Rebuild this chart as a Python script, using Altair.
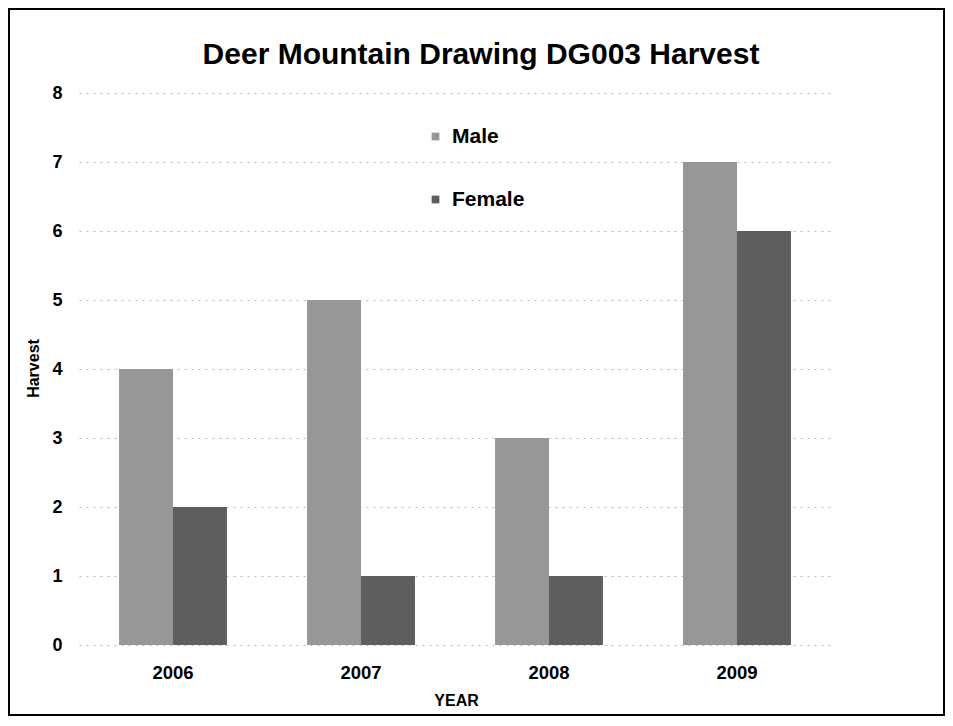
import altair as alt
import pandas as pd

years = ["2006", "2007", "2008", "2009"]
male = [4, 5, 3, 7]
female = [2, 1, 1, 6]
sexes = ["Male", "Female"]
colors = ["#979797", "#5e5e5e"]

rows = []
for i, y in enumerate(years):
    rows.append({"YEAR": y, "Sex": "Male", "Harvest": male[i]})
    rows.append({"YEAR": y, "Sex": "Female", "Harvest": female[i]})
df = pd.DataFrame(rows)

W, H = 752, 552

bars = alt.Chart(df).mark_bar().encode(
    x=alt.X("YEAR:N", sort=years,
            scale=alt.Scale(paddingInner=0.426, paddingOuter=0.213),
            axis=alt.Axis(title="YEAR", labelAngle=0, domain=False, ticks=False,
                          labelFont="Liberation Sans", labelFontSize=18.5, labelFontWeight="bold",
                          labelColor="black", labelPadding=18,
                          titleFont="Liberation Sans", titleFontSize=16, titleFontWeight="bold",
                          titleColor="black", titleX=377, titleY=55, titleBaseline="middle")),
    xOffset=alt.XOffset("Sex:N", sort=sexes, scale=alt.Scale(paddingInner=0, paddingOuter=0)),
    y=alt.Y("Harvest:Q", scale=alt.Scale(domain=[0, 8], nice=False),
            axis=alt.Axis(title="Harvest", values=list(range(0, 9)), domain=False, ticks=False,
                          labelFont="Liberation Sans", labelFontSize=18, labelFontWeight="bold",
                          labelColor="black", labelPadding=17,
                          grid=True, gridDash=[2, 5], gridColor="#888888", gridOpacity=0.6,
                          titleFont="Liberation Sans", titleFontSize=16, titleFontWeight="bold",
                          titleColor="black", titleX=-46, titleY=275, titleAngle=-90,
                          titleBaseline="middle")),
    color=alt.Color("Sex:N", sort=sexes, scale=alt.Scale(domain=sexes, range=colors),
                    legend=alt.Legend(title=None, orient="none", legendX=346, legendY=33,
                                      symbolType="square", symbolSize=60,
                                      labelFont="Liberation Sans", labelFontSize=21,
                                      labelFontWeight="bold", labelColor="black",
                                      rowPadding=41, labelOffset=6)),
)

border = alt.Chart(pd.DataFrame({"a": [0]})).mark_rect(
    fill=None, stroke="black", strokeWidth=2, clip=False
).encode(x=alt.value(-70), x2=alt.value(865), y=alt.value(-84), y2=alt.value(622))

chart = alt.layer(bars, border).properties(
    width=W, height=H,
    background="white",
    title=alt.TitleParams("Deer Mountain Drawing DG003 Harvest", font="Liberation Sans",
                          fontSize=30, fontWeight="bold", color="black", dx=26, offset=-62),
    autosize=alt.AutoSizeParams(type="none"),
    padding={"left": 71, "top": 85, "right": 114, "bottom": 72},
).configure_view(stroke=None, strokeWidth=0)

chart.save("out.html", embed_options={"renderer": "svg", "actions": False})
